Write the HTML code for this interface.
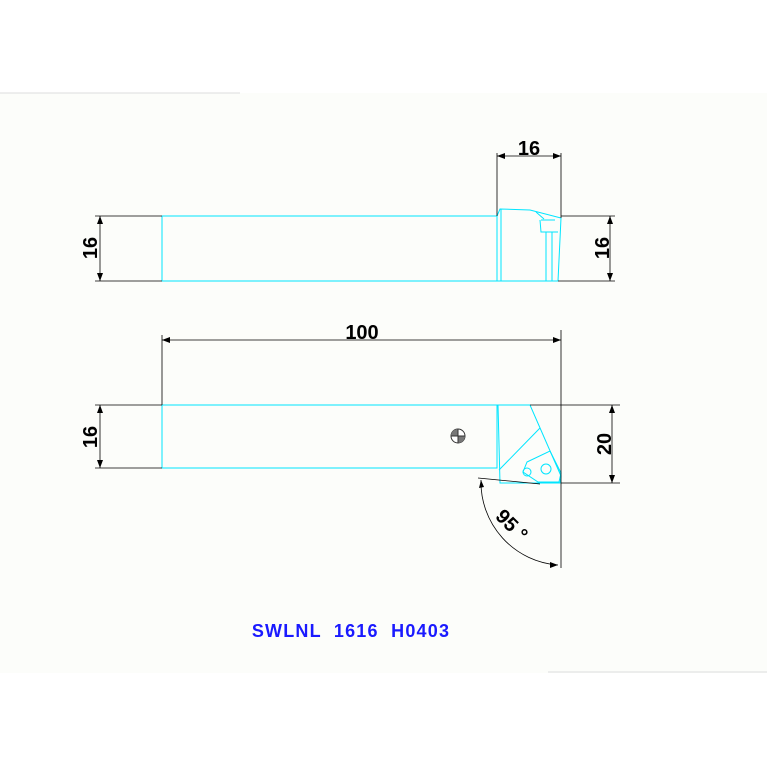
<!DOCTYPE html><html><head><style>body{margin:0;background:#fff}</style></head><body>
<svg width="767" height="767" viewBox="0 0 767 767" xmlns="http://www.w3.org/2000/svg" font-family="Liberation Sans, sans-serif">
<rect x="0" y="93" width="767" height="580" fill="#fcfdfa"/>
<line x1="0" y1="93" x2="240" y2="93" stroke="#ddd" stroke-width="1"/>
<line x1="548" y1="672" x2="767" y2="672" stroke="#ddd" stroke-width="1"/>
<g fill="none" stroke="#00e5ff" stroke-width="1">
<path d="M162 216 H497 V281 H162 Z"/>
<path d="M497 216 L500 209 L530 210 L561 218 L558 281 H497"/>
<path d="M501 209 V281 M540 220 L541 232 H558 M541 220 H555 M546 232 V281 M552 232 V281 M536 212 L544 219"/>
<path d="M162 405 H497 V468 H162 Z"/>
<path d="M497 405 H530 L561 476 L560 483 H500 L498 405"/>
<path d="M499 470 L540 428"/>
<path d="M527 462 L550 451 L561 473 L559 482 L538 482 L523 472 Z"/>
<circle cx="546" cy="469" r="5"/>
<circle cx="527" cy="472" r="4"/>
</g>
<circle cx="458" cy="436" r="7" fill="#fff" stroke="#333"/>
<path d="M458 436 V429 A7 7 0 0 0 451 436Z M458 436 V443 A7 7 0 0 0 465 436Z" fill="#777"/>
<path d="M451 436 H465 M458 429 V443" stroke="#333"/>
<g stroke="#000" stroke-width="0.8" fill="none">
<path d="M95 216 H162 M95 281 H162 M100 216 V281"/>
<path d="M497 153 V216 M561 153 V218 M497 156 H561"/>
<path d="M561 216 H615 M558 281 H615 M610 216 V281"/>
<path d="M162 335 V405 M561 330 V568 M162 340 H561"/>
<path d="M95 405 H162 M95 468 H162 M100 405 V468"/>
<path d="M530 405 H620 M561 483 H620 M612 405 V483"/>
<path d="M478 478 L540 484"/>
<path d="M481 480 A83 83 0 0 0 558 565"/>
</g>
<g fill="#000">
<path d="M100 216 l-3 8 h6z M100 281 l-3 -8 h6z M100 405 l-3 8 h6z M100 468 l-3 -8 h6z"/>
<path d="M610 216 l-3 8 h6z M610 281 l-3 -8 h6z M612 405 l-3 8 h6z M612 483 l-3 -8 h6z"/>
<path d="M497 156 l8 -3 v6z M561 156 l-8 -3 v6z M162 340 l8 -3 v6z M561 340 l-8 -3 v6z"/>
<path d="M481 480 l-2 8 l5 -1z M558 565 l-8 -3 l0 6z"/>
</g>
<g font-size="20" font-weight="bold" fill="#000">
<text x="529" y="155" text-anchor="middle">16</text>
<text x="362" y="339" text-anchor="middle">100</text>
<text transform="translate(97 248) rotate(-90)" text-anchor="middle">16</text>
<text transform="translate(97 437) rotate(-90)" text-anchor="middle">16</text>
<text transform="translate(609 248) rotate(-90)" text-anchor="middle">16</text>
<text transform="translate(611 444) rotate(-90)" text-anchor="middle">20</text>
<text transform="translate(507 530) rotate(45)" text-anchor="middle">95 °</text>
</g>
<text x="351" y="637" text-anchor="middle" font-size="18" font-weight="bold" fill="#1a1aff" letter-spacing="1.2" xml:space="preserve">SWLNL  1616  H0403</text>
</svg>
</body></html>
